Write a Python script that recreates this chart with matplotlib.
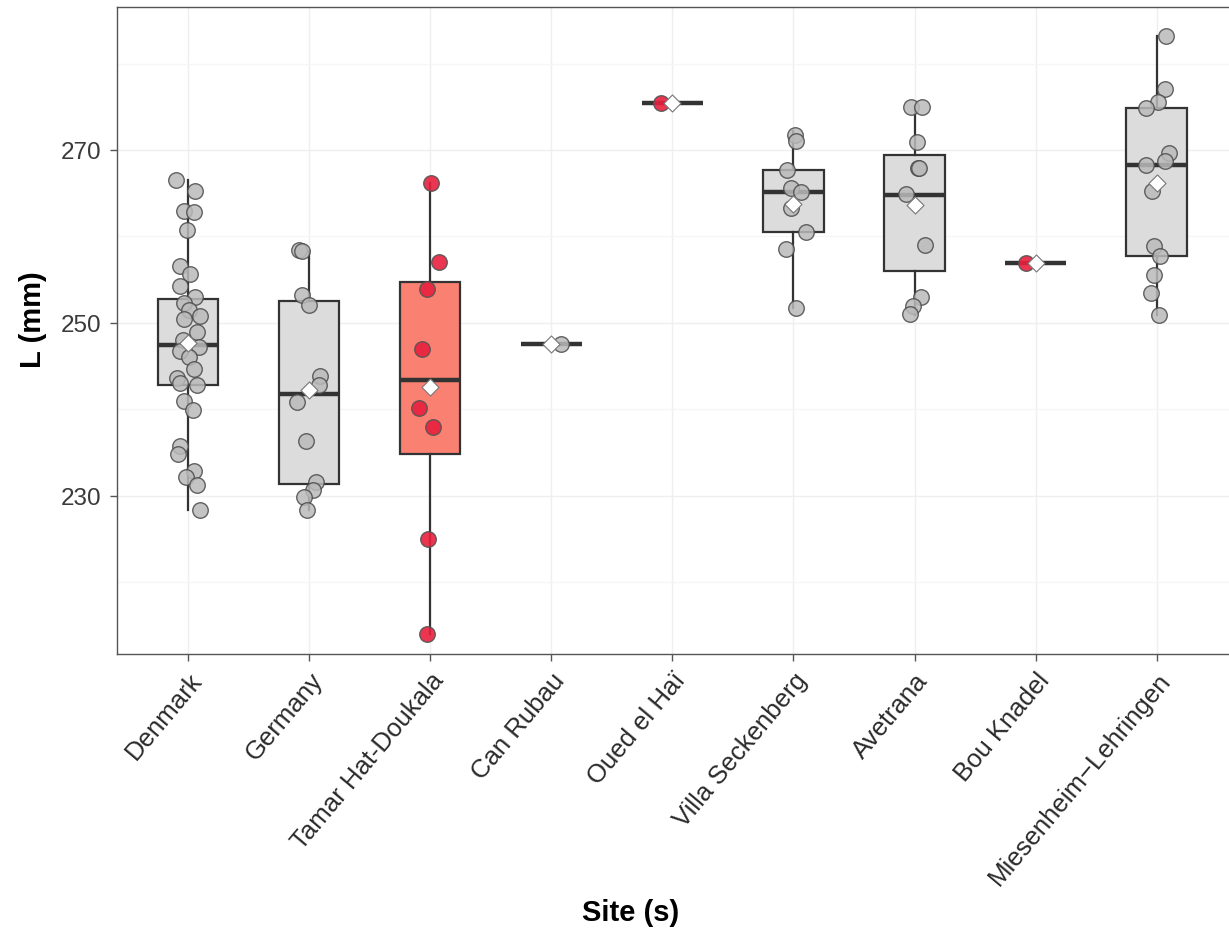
import matplotlib.pyplot as plt

plt.rcParams['font.family'] = ['Liberation Sans', 'DejaVu Sans']

# ---------------- DATA ----------------
sites = ["Denmark", "Germany", "Tamar Hat-Doukala", "Can Rubau", "Oued el Haï",
         "Villa Seckenberg", "Avetrana", "Bou Knadel", "Miesenheim\u2212Lehringen"]
highlight = [False, False, True, False, True, False, False, True, False]

denmark = [266.5, 265.2, 262.9, 262.8, 260.8, 256.6, 255.6, 254.3, 253.0, 252.3,
           251.5, 250.8, 250.4, 249.0, 248.0, 247.2, 246.8, 246.0, 244.7, 243.6,
           243.0, 242.8, 241.0, 239.9, 235.8, 234.8, 232.9, 232.2, 231.2, 228.3]
denmark_jit = [-0.10, 0.06, -0.03, 0.05, -0.01, -0.07, 0.02, -0.07, 0.06, -0.03,
               0.01, 0.10, -0.03, 0.07, -0.04, 0.09, -0.07, 0.01, 0.05, -0.09,
               -0.07, 0.07, -0.03, 0.04, -0.07, -0.08, 0.05, -0.02, 0.07, 0.10]
germany = [258.4, 258.3, 253.2, 252.1, 243.9, 242.8, 240.9, 236.3, 231.6, 230.7, 229.9, 228.3]
germany_jit = [-0.08, -0.06, -0.06, 0.00, 0.09, 0.08, -0.10, -0.03, 0.06, 0.03, -0.04, -0.02]
tamar = [266.2, 257.0, 253.9, 247.0, 240.1, 238.0, 225.0, 214.0]
tamar_jit = [0.01, 0.07, -0.03, -0.07, -0.09, 0.02, -0.02, -0.03]
can_rubau = [247.5]
can_rubau_jit = [0.08]
oued = [275.4]
oued_jit = [-0.09]
villa = [271.7, 271.0, 267.7, 265.6, 265.1, 263.3, 260.5, 258.5, 251.7]
villa_jit = [0.01, 0.02, -0.05, -0.02, 0.06, -0.02, 0.10, -0.06, 0.02]
avetrana = [275.0, 275.0, 270.9, 267.9, 267.9, 264.9, 259.0, 253.0, 251.9, 251.0]
avetrana_jit = [-0.03, 0.06, 0.02, 0.03, 0.04, -0.07, 0.09, 0.05, -0.01, -0.04]
bou = [256.9]
bou_jit = [-0.08]
miesen = [283.2, 277.1, 275.6, 274.8, 269.7, 268.7, 268.3, 265.2, 258.9, 257.7, 255.5, 253.5, 250.9]
miesen_jit = [0.08, 0.07, 0.01, -0.09, 0.10, 0.07, -0.09, -0.04, -0.02, 0.03, -0.02, -0.05, 0.02]

values = [denmark, germany, tamar, can_rubau, oued, villa, avetrana, bou, miesen]
jitters = [denmark_jit, germany_jit, tamar_jit, can_rubau_jit, oued_jit,
           villa_jit, avetrana_jit, bou_jit, miesen_jit]

# box statistics
q1 = [242.8, 231.4, 234.8, 247.5, 275.4, 260.5, 256.0, 256.9, 257.7]
med = [247.4, 241.8, 243.4, 247.5, 275.4, 265.1, 264.8, 256.9, 268.3]
q3 = [252.8, 252.5, 254.7, 247.5, 275.4, 267.7, 269.4, 256.9, 274.9]
wlo = [228.3, 228.3, 214.0, 247.5, 275.4, 251.7, 250.9, 256.9, 250.9]
whi = [266.5, 258.3, 266.2, 247.5, 275.4, 272.2, 275.0, 256.9, 283.2]
means = [247.7, 242.2, 242.6, 247.5, 275.4, 263.7, 263.6, 256.9, 266.2]

# ---------------- PLOT ----------------
fig = plt.figure(figsize=(12.29, 9.29), dpi=100)
ax = fig.add_axes([0.0952, 0.295, 0.91, 0.696])

positions = list(range(1, len(sites) + 1))
stats = []
for i in range(len(sites)):
    stats.append(dict(q1=q1[i], med=med[i], q3=q3[i], whislo=wlo[i], whishi=whi[i],
                      mean=means[i], fliers=[]))

box_fill = ["#fa8072" if h else "#dcdcdc" for h in highlight]
bp = ax.bxp(stats, positions=positions, widths=0.5, patch_artist=True,
            showfliers=False, showcaps=False, showmeans=False,
            boxprops=dict(edgecolor="#333333", linewidth=1.6),
            whiskerprops=dict(color="#333333", linewidth=1.6),
            medianprops=dict(color="#333333", linewidth=3.2, solid_capstyle="butt"),
            zorder=2)
for patch, fc in zip(bp["boxes"], box_fill):
    patch.set_facecolor(fc)

for i, (vals, jit) in enumerate(zip(values, jitters)):
    xs = [positions[i] + j for j in jit]
    if highlight[i]:
        ax.scatter(xs, vals, s=125, facecolor="#e8203d", edgecolor="#555555",
                   linewidth=1.0, alpha=0.9, zorder=3)
    else:
        ax.scatter(xs, vals, s=125, facecolor="#bababa", edgecolor="#4a4a4a",
                   linewidth=1.0, alpha=0.85, zorder=3)

ax.scatter(positions, means, marker="D", s=75, facecolor="white",
           edgecolor="#777777", linewidth=0.8, zorder=4)

ax.set_xlim(0.413, 9.65)
ax.set_ylim(211.7, 286.5)
ax.set_yticks([230, 250, 270])
ax.set_yticks([220, 240, 260, 280], minor=True)
ax.set_xticks(positions)
ax.set_xticklabels(sites, rotation=50, ha="right", rotation_mode="anchor")

ax.grid(True, which="major", color="#efefef", linewidth=1.0, zorder=0)
ax.grid(True, which="minor", axis="y", color="#f6f6f6", linewidth=1.0, zorder=0)
ax.set_axisbelow(True)
ax.tick_params(axis="y", which="major", labelsize=17.5, labelcolor="#3a3a3a",
               color="#555555", length=5, width=1, pad=6)
ax.tick_params(axis="x", which="major", labelsize=18.5, labelcolor="#2a2a2a",
               color="#555555", length=5, width=1, pad=5)
ax.tick_params(axis="y", which="minor", length=0)

for s in ax.spines.values():
    s.set_color("#555555")
    s.set_linewidth(1.0)

ax.set_ylabel("L (mm)", fontsize=21, fontweight="bold")
ax.set_xlabel("Site (s)", fontsize=21, fontweight="bold")
ax.yaxis.set_label_coords(-0.063, 0.518)
ax.xaxis.set_label_coords(0.459, -0.377)

fig.savefig("out.png", dpi=100)
